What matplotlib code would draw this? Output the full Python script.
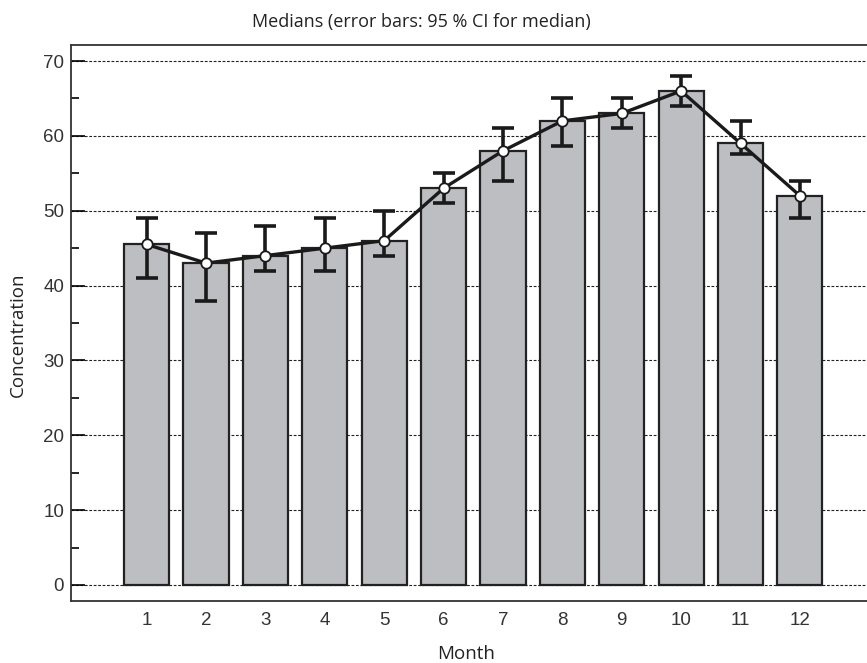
import matplotlib
matplotlib.use('Agg')
import matplotlib.pyplot as plt
import numpy as np
from matplotlib.ticker import MultipleLocator

months = [1, 2, 3, 4, 5, 6, 7, 8, 9, 10, 11, 12]
medians = [45.5, 43, 44, 45, 46, 53, 58, 62, 63, 66, 59, 52]
ci_low = [41, 38, 42, 42, 44, 51, 54, 58.7, 61, 64, 57.6, 49]
ci_high = [49, 47, 48, 49, 50, 55, 61, 65, 65, 68, 62, 54]

TITLE = 'Medians (error bars: 95 % CI for median)'
XLABEL = 'Month'
YLABEL = 'Concentration'


def main():
    fig = plt.figure(figsize=(8.67, 6.63), dpi=100)
    ax = fig.add_axes([71 / 867, 1 - 601 / 663, 1 - 71 / 867, (601 - 45) / 663])

    x = np.array(months)
    med = np.array(medians)
    lo = med - np.array(ci_low)
    hi = np.array(ci_high) - med

    ax.bar(x, med, width=0.76, color='#bdbec2', edgecolor='#222222',
           linewidth=1.6, zorder=2)
    ax.errorbar(x, med, yerr=[lo, hi], fmt='none', ecolor='#1a1a1a',
                elinewidth=2.6, capsize=8, capthick=2.6, zorder=3)
    ax.plot(x, med, color='#1a1a1a', linewidth=2.4, marker='o',
            markersize=7.5, markerfacecolor='white', markeredgecolor='#1a1a1a',
            markeredgewidth=1.3, zorder=4)

    ax.set_xlim(-0.274, 13.13)
    ax.set_ylim(-2.14, 72.14)
    ax.set_xticks(months)
    ax.yaxis.set_major_locator(MultipleLocator(10))
    ax.yaxis.set_minor_locator(MultipleLocator(5))
    ax.tick_params(axis='x', length=0, pad=8, labelsize=13.5,
                   labelcolor='#333333', labelfontfamily='Liberation Sans')
    ax.tick_params(axis='y', which='major', direction='in', length=10,
                   width=1.2, labelsize=13.5, labelcolor='#333333', pad=5,
                   labelfontfamily='Liberation Sans')
    ax.tick_params(axis='y', which='minor', direction='in', length=6, width=1.2)

    ax.yaxis.grid(True, which='major', linestyle=(0, (2.5, 1.5)),
                  linewidth=0.8, color='#222222', zorder=0)
    ax.set_axisbelow(True)
    ax.spines['right'].set_visible(False)
    for s in ['left', 'bottom', 'top']:
        ax.spines[s].set_color('#333333')
        ax.spines[s].set_linewidth(1.3)

    fig.text(421 / 867, 1 - 22 / 663, TITLE, ha='center', va='center',
             fontsize=13, family='Open Sans', color='#222222')
    fig.text(18 / 867, 1 - 335 / 663, YLABEL, ha='center', va='center',
             rotation=90, fontsize=13.5, family='Open Sans', color='#222222')
    fig.text(466 / 867, 1 - 654 / 663, XLABEL, ha='center', va='center',
             fontsize=13.5, family='Open Sans', color='#222222')

    fig.savefig('out.png', dpi=100)


if __name__ == '__main__':
    main()
